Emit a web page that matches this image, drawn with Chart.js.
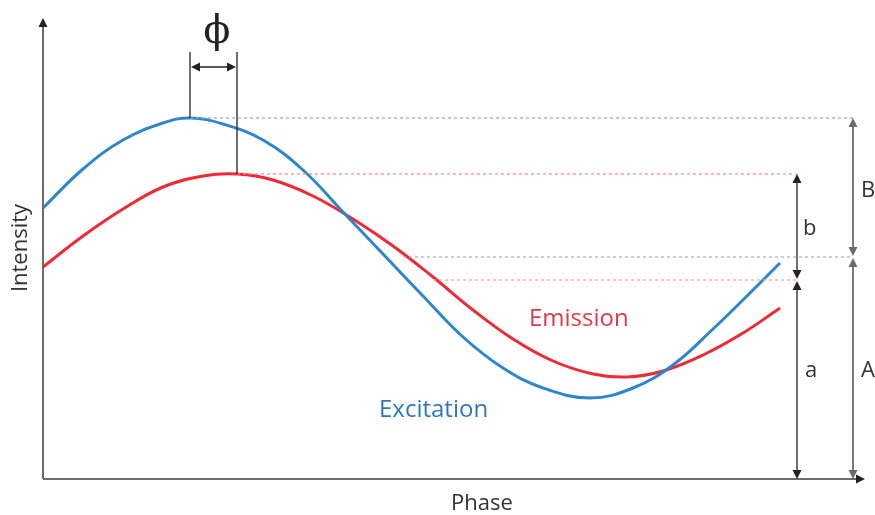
<!DOCTYPE html>
<html>
<head>
<meta charset="utf-8">
<script src="https://cdn.jsdelivr.net/npm/chart.js@4.4.0/dist/chart.umd.min.js"></script>
<style>
  html, body { margin: 0; padding: 0; background: #fff; }
  #wrap { width: 875px; height: 515px; }
</style>
</head>
<body>
<div id="wrap"><canvas id="phaseChart" width="875" height="515"></canvas></div>
<script>
// phase positions and intensities
const excitationPhase = [0, 40, 80, 120, 147, 180, 220, 260, 300, 340, 380, 420, 460, 500, 547, 590, 630, 670, 705, 737];
const excitationIntensity = [271, 310, 339, 356, 361, 355, 339, 309, 267, 225, 183, 142, 111, 91, 81, 91, 114, 150, 184, 216];

const emissionPhase = [0, 40, 80, 120, 160, 194, 230, 270, 310, 350, 390, 430, 470, 510, 550, 584, 620, 660, 700, 737];
const emissionIntensity = [212, 243, 270, 292, 303, 305, 299, 283, 260, 233, 202, 169, 140, 118, 105, 102, 108, 124, 146, 171];

// mean (offset) levels, marked by the lower dashed lines
const excitationMean = 222;
const emissionMean = 199;

const BLUE = "#2f86c8";
const RED = "#ee2a35";
const INK = "#222222";
const GREY = "#6b6b6b";

function toPoints(xs, ys) {
    return xs.map((x, i) => ({ x: x, y: ys[i] }));
}

function arrowHead(ctx, x, y, dir, color) {
    // dir: "up", "down", "right", "left"
    ctx.save();
    ctx.fillStyle = color;
    ctx.beginPath();
    if (dir === "up") {
        ctx.moveTo(x, y); ctx.lineTo(x - 4.5, y + 9); ctx.lineTo(x + 4.5, y + 9);
    } else if (dir === "down") {
        ctx.moveTo(x, y); ctx.lineTo(x - 4.5, y - 9); ctx.lineTo(x + 4.5, y - 9);
    } else if (dir === "right") {
        ctx.moveTo(x, y); ctx.lineTo(x - 9, y - 4.5); ctx.lineTo(x - 9, y + 4.5);
    } else {
        ctx.moveTo(x, y); ctx.lineTo(x + 9, y - 4.5); ctx.lineTo(x + 9, y + 4.5);
    }
    ctx.closePath();
    ctx.fill();
    ctx.restore();
}

function line(ctx, x1, y1, x2, y2, color, width, dash) {
    ctx.save();
    ctx.strokeStyle = color;
    ctx.lineWidth = width;
    ctx.setLineDash(dash || []);
    ctx.beginPath();
    ctx.moveTo(x1, y1);
    ctx.lineTo(x2, y2);
    ctx.stroke();
    ctx.restore();
}

function doubleArrow(ctx, x, y1, y2, color, width) {
    line(ctx, x, y1 + 4, x, y2 - 4, color, width);
    arrowHead(ctx, x, y1, "up", color);
    arrowHead(ctx, x, y2, "down", color);
}

const axesPlugin = {
    id: "axesPlugin",
    beforeDatasetsDraw(chart) {
        const ctx = chart.ctx;
        const a = chart.chartArea;
        // axes with arrow heads
        line(ctx, a.left, a.bottom, a.left, a.top + 6, GREY, 2);
        arrowHead(ctx, a.left, a.top, "up", INK);
        line(ctx, a.left, a.bottom, a.right - 6, a.bottom, GREY, 2);
        arrowHead(ctx, a.right, a.bottom, "right", INK);

        ctx.save();
        ctx.fillStyle = "#333";
        ctx.font = "22px 'Open Sans', sans-serif";
        ctx.textAlign = "center";
        ctx.textBaseline = "middle";
        ctx.fillText("Phase", 482, 504);
        ctx.translate(21, 248);
        ctx.rotate(-Math.PI / 2);
        ctx.fillText("Intensity", 0, 0);
        ctx.restore();
    },
    afterDatasetsDraw(chart) {
        const ctx = chart.ctx;
        const xs = chart.scales.x;
        const ys = chart.scales.y;
        const a = chart.chartArea;

        const exMax = Math.max(...excitationIntensity);
        const emMax = Math.max(...emissionIntensity);
        const exPeakX = excitationPhase[excitationIntensity.indexOf(exMax)];
        const emPeakX = emissionPhase[emissionIntensity.indexOf(emMax)];

        const pExPeakX = xs.getPixelForValue(exPeakX);
        const pEmPeakX = xs.getPixelForValue(emPeakX);
        const pExMax = ys.getPixelForValue(exMax);
        const pEmMax = ys.getPixelForValue(emMax);
        const pExMean = ys.getPixelForValue(excitationMean);
        const pEmMean = ys.getPixelForValue(emissionMean);
        const base = a.bottom;

        const xInner = 797;
        const xOuter = 853;

        // dashed guide lines
        line(ctx, pExPeakX, pExMax, xOuter, pExMax, "#8aa8d8", 1.2, [3, 3]);
        line(ctx, pEmPeakX, pEmMax, xInner, pEmMax, "#f28a8a", 1.2, [3, 3]);
        line(ctx, 403, pExMean, xOuter, pExMean, "#9fb0cc", 1.2, [3, 3]);
        line(ctx, 433, pEmMean, xInner, pEmMean, "#f0a0a0", 1.2, [3, 3]);

        // phase shift marker
        line(ctx, pExPeakX, pExMax, pExPeakX, 52, INK, 1.3);
        line(ctx, pEmPeakX, pEmMax, pEmPeakX, 52, INK, 1.3);
        line(ctx, pExPeakX + 6, 67, pEmPeakX - 6, 67, INK, 1.3);
        arrowHead(ctx, pExPeakX + 1, 67, "left", INK);
        arrowHead(ctx, pEmPeakX - 1, 67, "right", INK);

        // amplitude / offset arrows
        doubleArrow(ctx, xInner, pEmMax, pEmMean - 1, INK, 1.3);
        doubleArrow(ctx, xInner, pEmMean + 1, base, INK, 1.3);
        doubleArrow(ctx, xOuter, pExMax, pExMean - 1, GREY, 1.8);
        doubleArrow(ctx, xOuter, pExMean + 1, base, GREY, 1.8);

        ctx.save();
        ctx.textBaseline = "middle";
        ctx.textAlign = "left";
        ctx.fillStyle = "#333";
        ctx.font = "22px 'Open Sans', sans-serif";
        ctx.fillText("b", 803, 229);
        ctx.fillText("a", 805, 371);
        ctx.fillText("B", 861, 191);
        ctx.fillText("A", 861, 371);

        ctx.font = "40px 'DejaVu Serif', serif";
        ctx.textAlign = "center";
        ctx.fillStyle = INK;
        ctx.fillText("\u03D5", 217, 33);

        ctx.textAlign = "left";
        ctx.font = "24px 'Open Sans', sans-serif";
        ctx.fillStyle = "#e03a48";
        ctx.fillText("Emission", 529, 319);
        ctx.fillStyle = "#2f78c0";
        ctx.fillText("Excitation", 379, 410);
        ctx.restore();
    }
};

new Chart(document.getElementById("phaseChart"), {
    type: "line",
    data: {
        datasets: [
            {
                label: "Excitation",
                data: toPoints(excitationPhase, excitationIntensity),
                borderColor: BLUE,
                borderWidth: 3,
                pointRadius: 0,
                tension: 0.4,
                fill: false
            },
            {
                label: "Emission",
                data: toPoints(emissionPhase, emissionIntensity),
                borderColor: RED,
                borderWidth: 3,
                pointRadius: 0,
                tension: 0.4,
                fill: false
            }
        ]
    },
    options: {
        responsive: false,
        animation: false,
        layout: { padding: { left: 43, right: 10, top: 18, bottom: 36 } },
        plugins: { legend: { display: false }, tooltip: { enabled: false } },
        scales: {
            x: { type: "linear", min: 0, max: 822, display: false },
            y: { min: 0, max: 461, display: false }
        }
    },
    plugins: [axesPlugin]
});
</script>
</body>
</html>
